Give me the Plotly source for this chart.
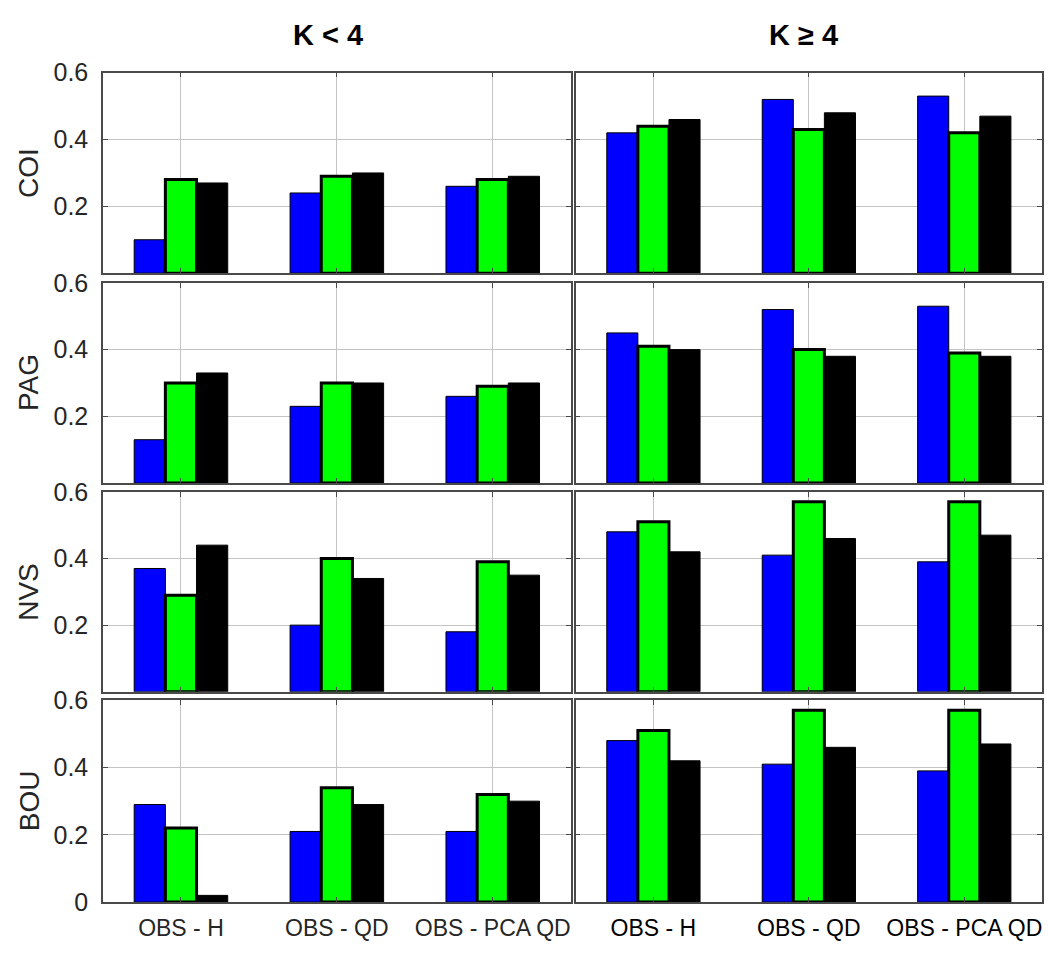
import plotly.graph_objects as go

# ---------------- data ----------------
categories = ["OBS - H", "OBS - QD", "OBS - PCA QD"]
stations = ["COI", "PAG", "NVS", "BOU"]
col_titles = ["K &lt; 4", "K ≥ 4"]

# K < 4  (left column)
coi_low_blue = [0.10, 0.24, 0.26]
coi_low_green = [0.28, 0.29, 0.28]
coi_low_black = [0.27, 0.30, 0.29]

pag_low_blue = [0.13, 0.23, 0.26]
pag_low_green = [0.30, 0.30, 0.29]
pag_low_black = [0.33, 0.30, 0.30]

nvs_low_blue = [0.37, 0.20, 0.18]
nvs_low_green = [0.29, 0.40, 0.39]
nvs_low_black = [0.44, 0.34, 0.35]

bou_low_blue = [0.29, 0.21, 0.21]
bou_low_green = [0.22, 0.34, 0.32]
bou_low_black = [0.02, 0.29, 0.30]

# K >= 4 (right column)
coi_high_blue = [0.42, 0.52, 0.53]
coi_high_green = [0.44, 0.43, 0.42]
coi_high_black = [0.46, 0.48, 0.47]

pag_high_blue = [0.45, 0.52, 0.53]
pag_high_green = [0.41, 0.40, 0.39]
pag_high_black = [0.40, 0.38, 0.38]

nvs_high_blue = [0.48, 0.41, 0.39]
nvs_high_green = [0.51, 0.57, 0.57]
nvs_high_black = [0.42, 0.46, 0.47]

bou_high_blue = [0.48, 0.41, 0.39]
bou_high_green = [0.51, 0.57, 0.57]
bou_high_black = [0.42, 0.46, 0.47]

y_tickvals = [0, 0.2, 0.4, 0.6]
y_ticktext_bottom = ["0", "0.2", "0.4", "0.6"]
y_ticktext_other = ["", "0.2", "0.4", "0.6"]

panels = [
    [(coi_low_blue, coi_low_green, coi_low_black), (coi_high_blue, coi_high_green, coi_high_black)],
    [(pag_low_blue, pag_low_green, pag_low_black), (pag_high_blue, pag_high_green, pag_high_black)],
    [(nvs_low_blue, nvs_low_green, nvs_low_black), (nvs_high_blue, nvs_high_green, nvs_high_black)],
    [(bou_low_blue, bou_low_green, bou_low_black), (bou_high_blue, bou_high_green, bou_high_black)],
]

# ---------------- layout geometry (window pixels) ----------------
W, H = 1048, 953
col_px = [(103.0, 570.7), (575.7, 1042.0)]
row_px = [(60.5, 267.0), (277.0, 483.3), (492.3, 698.3), (707.0, 915.0)]
title_px = [(328, 22), (803, 22)]


def px_x(v):
    return min(1.0, max(0.0, v / W))


def px_y(v):
    return min(1.0, max(0.0, 1 - v / H))


FONT = "Liberation Sans, Arial, Helvetica, sans-serif"
TXT = "#262626"
AXC = "#4a4a4a"
GRID = "#c4c4c4"

fig = go.Figure()
layout = {}
annotations = []

idx = 0
for r in range(4):
    for c in range(2):
        idx += 1
        xname = "x" if idx == 1 else f"x{idx}"
        yname = "y" if idx == 1 else f"y{idx}"
        xkey = "xaxis" if idx == 1 else f"xaxis{idx}"
        ykey = "yaxis" if idx == 1 else f"yaxis{idx}"
        blue, green, black = panels[r][c]
        fig.add_trace(go.Bar(x=categories, y=blue, xaxis=xname, yaxis=yname,
                             marker=dict(color="#0000ff", line=dict(color="#000000", width=1)),
                             offsetgroup="a", showlegend=False, hoverinfo="skip"))
        fig.add_trace(go.Bar(x=categories, y=green, xaxis=xname, yaxis=yname,
                             marker=dict(color="#00ff00", line=dict(color="#000000", width=3)),
                             offsetgroup="b", showlegend=False, hoverinfo="skip"))
        fig.add_trace(go.Bar(x=categories, y=black, xaxis=xname, yaxis=yname,
                             marker=dict(color="#000000", line=dict(color="#000000", width=1)),
                             offsetgroup="c", showlegend=False, hoverinfo="skip"))
        x0, x1 = col_px[c]
        yt, yb = row_px[r]
        layout[xkey] = dict(
            domain=[px_x(x0), px_x(x1)], anchor=yname, type="category",
            categoryorder="array", categoryarray=categories,
            showgrid=True, gridcolor=GRID, gridwidth=1,
            showline=True, linecolor=AXC, linewidth=1.5, mirror="ticks",
            ticks="inside", ticklen=5, tickcolor=AXC,
            showticklabels=(r == 3), ticklabelstandoff=5,
            tickfont=dict(family=FONT, size=23, color=TXT if c == 0 else "#000000"),
            fixedrange=True,
        )
        layout[ykey] = dict(
            domain=[px_y(yb), px_y(yt)], anchor=xname,
            range=[0, 0.6], tickvals=y_tickvals,
            ticktext=y_ticktext_bottom if r == 3 else y_ticktext_other,
            showgrid=True, gridcolor=GRID, gridwidth=1, zeroline=False,
            showline=True, linecolor=AXC, linewidth=1.5, mirror="ticks",
            ticks="inside", ticklen=5, tickcolor=AXC,
            showticklabels=(c == 0), ticklabelstandoff=8,
            tickfont=dict(family=FONT, size=25, color=TXT),
            fixedrange=True,
        )
    # row label
    yt, yb = row_px[r]
    annotations.append(dict(
        text=stations[r], x=px_x(29), y=px_y((yt + yb) / 2), xref="paper", yref="paper",
        xanchor="center", yanchor="middle", textangle=-90, showarrow=False,
        font=dict(family=FONT, size=28, color=TXT)))

for c in range(2):
    tx, ty = title_px[c]
    annotations.append(dict(
        text=f"<b>{col_titles[c]}</b>", x=px_x(tx), y=px_y(ty),
        xref="paper", yref="paper", xanchor="center", yanchor="middle",
        showarrow=False, font=dict(family=FONT, size=29, color="#000000")))

fig.update_layout(
    width=W, height=H,
    margin=dict(l=0, r=0, t=0, b=0),
    paper_bgcolor="white", plot_bgcolor="white",
    barmode="group", bargap=0.4, bargroupgap=0.0,
    showlegend=False,
    annotations=annotations,
    **layout,
)

fig.write_html(
    "out.html",
    config={"displayModeBar": False},
    post_script="document.body.style.margin='0';document.body.style.overflow='hidden';",
)
